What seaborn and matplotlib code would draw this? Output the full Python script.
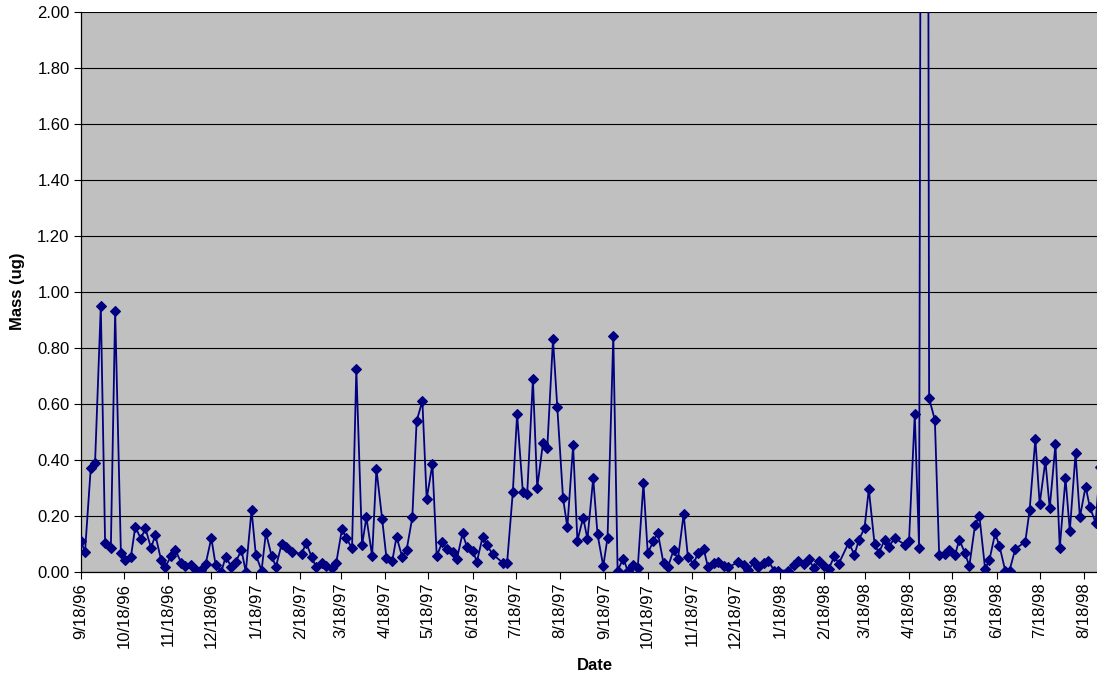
import matplotlib
matplotlib.use("Agg")
import matplotlib.pyplot as plt
import matplotlib.dates as mdates
import seaborn as sns
import pandas as pd

dates = [
    "9/18/96", "9/21/96", "9/25/96", "9/28/96", "10/2/96", "10/5/96", "10/9/96", "10/12/96",
    "10/16/96", "10/19/96", "10/23/96", "10/26/96", "10/30/96", "11/2/96", "11/6/96", "11/9/96",
    "11/13/96", "11/16/96", "11/20/96", "11/23/96", "11/27/96", "11/30/96", "12/4/96", "12/7/96",
    "12/11/96", "12/14/96", "12/18/96", "12/21/96", "12/25/96", "12/28/96", "1/1/97", "1/4/97",
    "1/8/97", "1/11/97", "1/15/97", "1/18/97", "1/22/97", "1/25/97", "1/29/97", "2/1/97",
    "2/5/97", "2/8/97", "2/12/97", "2/19/97", "2/22/97", "2/26/97", "3/1/97", "3/5/97",
    "3/8/97", "3/12/97", "3/15/97", "3/19/97", "3/22/97", "3/26/97", "3/29/97", "4/2/97",
    "4/5/97", "4/9/97", "4/12/97", "4/16/97", "4/19/97", "4/23/97", "4/26/97", "4/30/97",
    "5/3/97", "5/7/97", "5/10/97", "5/14/97", "5/17/97", "5/21/97", "5/24/97", "5/28/97",
    "5/31/97", "6/4/97", "6/7/97", "6/11/97", "6/14/97", "6/18/97", "6/21/97", "6/25/97",
    "6/28/97", "7/2/97", "7/9/97", "7/12/97", "7/16/97", "7/19/97", "7/23/97", "7/26/97",
    "7/30/97", "8/2/97", "8/6/97", "8/9/97", "8/13/97", "8/16/97", "8/20/97", "8/23/97",
    "8/27/97", "8/30/97", "9/3/97", "9/6/97", "9/10/97", "9/13/97", "9/17/97", "9/20/97",
    "9/24/97", "9/27/97", "10/1/97", "10/4/97", "10/8/97", "10/11/97", "10/15/97", "10/18/97",
    "10/22/97", "10/25/97", "10/29/97", "11/1/97", "11/5/97", "11/8/97", "11/12/97", "11/15/97",
    "11/19/97", "11/22/97", "11/26/97", "11/29/97", "12/3/97", "12/6/97", "12/10/97", "12/13/97",
    "12/20/97", "12/24/97", "12/27/97", "12/31/97", "1/3/98", "1/7/98", "1/10/98", "1/14/98",
    "1/17/98", "1/24/98", "1/28/98", "1/31/98", "2/4/98", "2/7/98", "2/11/98", "2/14/98",
    "2/18/98", "2/21/98", "2/25/98", "2/28/98", "3/7/98", "3/11/98", "3/14/98", "3/18/98",
    "3/21/98", "3/25/98", "3/28/98", "4/1/98", "4/4/98", "4/8/98", "4/15/98", "4/18/98",
    "4/22/98", "4/25/98", "4/29/98", "5/2/98", "5/6/98", "5/9/98", "5/13/98", "5/16/98",
    "5/20/98", "5/23/98", "5/27/98", "5/30/98", "6/3/98", "6/6/98", "6/10/98", "6/13/98",
    "6/17/98", "6/20/98", "6/24/98", "6/27/98", "7/1/98", "7/8/98", "7/11/98", "7/15/98",
    "7/18/98", "7/22/98", "7/25/98", "7/29/98", "8/1/98", "8/5/98", "8/8/98", "8/12/98",
    "8/15/98", "8/19/98", "8/22/98", "8/26/98", "8/29/98",
]

mass = [
    0.109, 0.071, 0.370, 0.389, 0.949, 0.102, 0.085, 0.932,
    0.068, 0.042, 0.054, 0.160, 0.117, 0.156, 0.085, 0.131,
    0.042, 0.018, 0.056, 0.077, 0.032, 0.020, 0.024, 0.006,
    0.006, 0.027, 0.120, 0.024, 0.000, 0.054, 0.017, 0.036,
    0.077, 0.000, 0.220, 0.060, 0.004, 0.139, 0.056, 0.018,
    0.099, 0.089, 0.070, 0.063, 0.104, 0.051, 0.016, 0.030,
    0.020, 0.012, 0.032, 0.152, 0.121, 0.083, 0.724, 0.095,
    0.194, 0.057, 0.367, 0.187, 0.048, 0.037, 0.125, 0.052,
    0.077, 0.194, 0.538, 0.610, 0.260, 0.384, 0.056, 0.107,
    0.080, 0.069, 0.044, 0.137, 0.089, 0.075, 0.036, 0.125,
    0.095, 0.062, 0.032, 0.030, 0.284, 0.563, 0.284, 0.276,
    0.687, 0.300, 0.459, 0.441, 0.830, 0.589, 0.262, 0.159,
    0.451, 0.111, 0.193, 0.117, 0.334, 0.134, 0.020, 0.121,
    0.842, 0.004, 0.047, 0.004, 0.024, 0.012, 0.316, 0.066,
    0.110, 0.139, 0.030, 0.016, 0.077, 0.044, 0.205, 0.051,
    0.028, 0.068, 0.080, 0.016, 0.030, 0.034, 0.020, 0.016,
    0.034, 0.024, 0.006, 0.034, 0.016, 0.030, 0.039, 0.004,
    0.004, 0.004, 0.025, 0.039, 0.028, 0.044, 0.012, 0.039,
    0.020, 0.009, 0.056, 0.028, 0.104, 0.060, 0.113, 0.156,
    0.295, 0.098, 0.068, 0.113, 0.090, 0.120, 0.097, 0.110,
    0.562, 0.084, 9.000, 0.619, 0.542, 0.060, 0.065, 0.077,
    0.058, 0.115, 0.066, 0.020, 0.167, 0.200, 0.010, 0.042,
    0.137, 0.092, 0.004, 0.004, 0.081, 0.107, 0.220, 0.474,
    0.242, 0.396, 0.226, 0.455, 0.086, 0.334, 0.145, 0.423,
    0.194, 0.304, 0.230, 0.175, 0.375,
]

y_ticks = [0.0, 0.2, 0.4, 0.6, 0.8, 1.0, 1.2, 1.4, 1.6, 1.8, 2.0]

df = pd.DataFrame({"Date": pd.to_datetime(dates, format="%m/%d/%y"), "Mass": mass})

sns.set_style("white")
plt.rcParams["font.family"] = ["Liberation Sans", "DejaVu Sans"]
plt.rcParams["text.color"] = "black"
plt.rcParams["axes.labelcolor"] = "black"
plt.rcParams["xtick.color"] = "black"
plt.rcParams["ytick.color"] = "black"

W, H = 1097, 681
fig = plt.figure(figsize=(W / 100, H / 100), dpi=100)
left_px, right_px, top_px, bottom_px = 80.7, 1110, 11.7, 571.7
ax = fig.add_axes([left_px / W, 1 - bottom_px / H,
                   (right_px - left_px) / W, (bottom_px - top_px) / H])
ax.set_facecolor("#C0C0C0")

sns.lineplot(data=df, x="Date", y="Mass", ax=ax, color="#000080",
             linewidth=1.3, marker="D", markersize=4.8,
             markeredgecolor="#000080", markerfacecolor="#000080",
             markeredgewidth=0.8, sort=False, estimator=None, zorder=3)

ax.set_ylim(0, 2.0)
ax.set_xlim(pd.Timestamp("1996-09-18"), pd.Timestamp("1998-09-05"))
ax.set_yticks(y_ticks)
ax.yaxis.set_major_formatter(matplotlib.ticker.FormatStrFormatter("%.2f"))
ax.xaxis.set_major_locator(mdates.MonthLocator(bymonthday=18))
ax.xaxis.set_major_formatter(mdates.DateFormatter("%-m/%-d/%y"))
ax.grid(axis="y", color="black", linewidth=0.8, zorder=1)
ax.grid(axis="x", visible=False)
ax.set_axisbelow(True)

for s in ["top", "right"]:
    ax.spines[s].set_visible(False)
for s in ["left", "bottom"]:
    ax.spines[s].set_color("black")
    ax.spines[s].set_linewidth(0.9)

ax.tick_params(axis="x", direction="out", length=5, width=0.8, color="black",
               labelcolor="black", labelsize=12, rotation=90, pad=3, bottom=True)
ax.tick_params(axis="y", direction="out", length=5, width=0.8, color="black",
               labelcolor="black", labelsize=12, pad=3, left=True)
for lbl in ax.get_xticklabels():
    lbl.set_horizontalalignment("center")

ax.set_xlabel("Date", fontsize=12, fontweight="bold", labelpad=7, color="black")
ax.set_ylabel("Mass (ug)", fontsize=12, fontweight="bold", labelpad=9, color="black")

fig.savefig("out.png", dpi=100, facecolor="white")
